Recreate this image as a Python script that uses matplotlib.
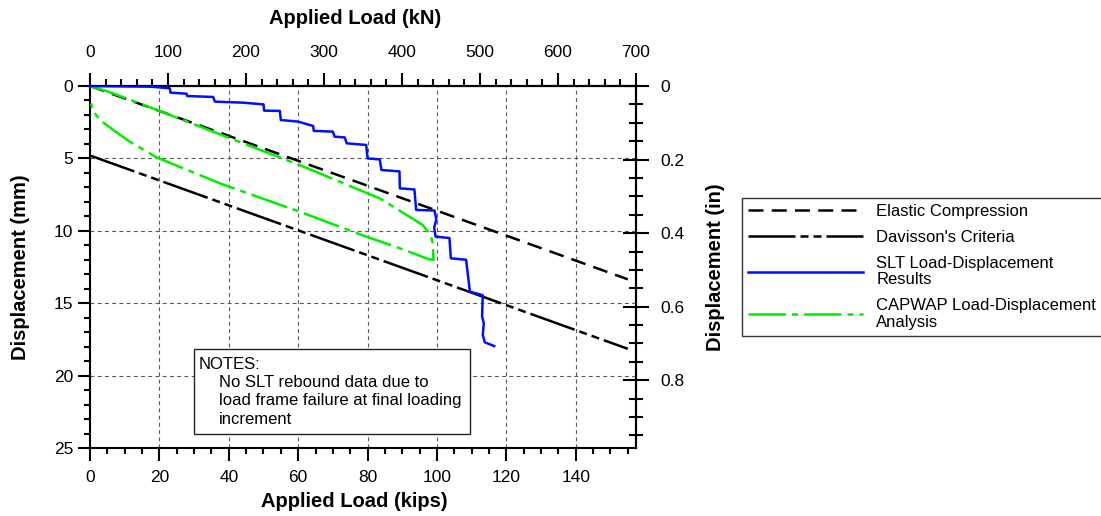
import matplotlib
matplotlib.use("Agg")
import matplotlib.pyplot as plt
from matplotlib.ticker import MultipleLocator, FixedLocator, FuncFormatter
from matplotlib.patches import Rectangle

plt.rcParams['font.family'] = ['Liberation Sans', 'DejaVu Sans']

KN_PER_KIP = 4.44822
MM_PER_IN = 25.4

# ---- data (load in kips, displacement in mm) ----
line_load = [0, 155]
elastic_disp = [0, 13.35]
davisson_disp = [4.8, 18.15]

slt_load = [0, 10, 17.8, 23, 23.2, 27.8, 28, 35.5, 36, 44, 50, 50.2, 54.7, 55,
            60, 64.3, 64.5, 70, 70.5, 73.4, 74, 79.6, 80, 83.5, 84, 89.2, 89.3,
            93.5, 94, 99.3, 99.8, 99.2, 99.6, 103.6, 104, 108.4, 109.5, 113.2,
            113.0, 113.5, 113.2, 113.8, 116.5]
slt_disp = [0, 0.03, 0.05, 0.16, 0.46, 0.53, 0.69, 0.76, 1.08, 1.15, 1.27, 1.7,
            1.72, 2.35, 2.46, 2.76, 3.1, 3.15, 3.5, 3.55, 3.96, 4.07, 5.0, 5.07,
            5.8, 5.9, 7.07, 7.14, 8.56, 8.6, 9.2, 9.8, 10.4, 10.5, 11.9, 12.0,
            14.2, 14.45, 15.9, 16.4, 17.2, 17.7, 17.96]

capwap_load = [0, 5.3, 17.3, 54.7, 60.4, 79.6, 83.5, 92, 95.9, 97.4, 98.3, 98.8,
               99.0, 97.8, 89.2, 79.6, 60.4, 37.4, 19.2, 11.5, 6.7, 2.9, 1.0, 0.3]
capwap_disp = [0, 0.39, 1.47, 4.93, 5.46, 7.37, 7.76, 9.02, 9.6, 10.06, 10.4, 10.87,
               12.0, 11.97, 11.2, 10.4, 8.68, 6.72, 4.93, 3.85, 3.04, 2.35, 1.77, 1.2]

labels = ["Elastic Compression", "Davisson's Criteria",
          "SLT Load-Displacement\nResults", "CAPWAP Load-Displacement\nAnalysis"]
notes_title = "NOTES:"
notes_lines = ["No SLT rebound data due to", "load frame failure at final loading", "increment"]

x_max = 700 / KN_PER_KIP

fig = plt.figure(figsize=(11.01, 5.16), dpi=100)
W, H = 1101, 516
ax = fig.add_axes([90 / W, 1 - 448 / H, (636 - 90) / W, (448 - 86) / H])

ax.set_xlim(0, x_max)
ax.set_ylim(25, 0)

lw = 1.8
l1, = ax.plot(line_load, elastic_disp, color='black', lw=lw, dashes=(6, 3.3), zorder=4)
l2, = ax.plot(line_load, davisson_disp, color='black', lw=lw,
              dashes=(18.8, 2, 3.2, 2, 3.2, 2), zorder=4)
l3, = ax.plot(slt_load, slt_disp, color='#0010ff', lw=lw, zorder=5)
l4, = ax.plot(capwap_load, capwap_disp, color='#00ee00', lw=lw,
              dashes=(15, 2.4, 2.4, 2.4), zorder=4)

# ticks
ax.xaxis.set_major_locator(MultipleLocator(20))
ax.xaxis.set_minor_locator(MultipleLocator(5))
ax.yaxis.set_major_locator(MultipleLocator(5))
ax.yaxis.set_minor_locator(MultipleLocator(1))
ax.tick_params(which='major', direction='out', length=9, width=1.5, labelsize=12.5)
ax.tick_params(which='minor', direction='out', length=4.5, width=1.5)
ax.tick_params(axis='x', which='major', pad=7)
ax.tick_params(axis='y', which='major', pad=3)
ax.tick_params(top=False, right=False, which='both')

for s in ax.spines.values():
    s.set_linewidth(1.5)

ax.grid(True, which='major', linestyle=(0, (3.5, 3)), color='0.35', lw=0.8, zorder=1)
ax.set_axisbelow(True)

ax.set_xlabel("Applied Load (kips)", fontsize=14.5, fontweight='bold')
ax.set_ylabel("Displacement (mm)", fontsize=14.5, fontweight='bold', labelpad=17)
ax.xaxis.set_label_coords(0.485, -0.122)

# top axis kN
top = ax.secondary_xaxis('top', functions=(lambda k: k * KN_PER_KIP, lambda n: n / KN_PER_KIP))
top.xaxis.set_major_locator(MultipleLocator(100))
top.xaxis.set_minor_locator(MultipleLocator(20))
top.tick_params(which='major', direction='out', length=9.5, width=1.5, labelsize=12.5, pad=9)
top.tick_params(which='minor', direction='out', length=5, width=1.5)
top.spines['top'].set_linewidth(1.5)
fig.text(355 / W, 1 - 18 / H, "Applied Load (kN)", fontsize=14.5, fontweight='bold',
         ha='center', va='center')

# right axis in
right = ax.secondary_yaxis('right', functions=(lambda m: m / MM_PER_IN, lambda i: i * MM_PER_IN))
right.yaxis.set_major_locator(FixedLocator([0, 0.2, 0.4, 0.6, 0.8]))
right.yaxis.set_minor_locator(FixedLocator([0.05 * i for i in range(20)]))
right.yaxis.set_major_formatter(FuncFormatter(lambda v, p: f"{v:g}"))
right.tick_params(which='major', direction='inout', length=18.5, width=1.5, labelsize=12.5, pad=8.5)
right.tick_params(which='minor', direction='inout', length=9.5, width=1.5)
right.spines['right'].set_linewidth(1.5)
right.set_ylabel("Displacement (in)", fontsize=14.5, fontweight='bold', labelpad=15)

# notes box
ax.add_patch(Rectangle((30, 18.15), 79.5, 5.9, facecolor='white', edgecolor='#222222',
                       lw=1.0, zorder=6))
ax.text(31.4, 19.2, notes_title, fontsize=12, va='center', ha='left', zorder=7)
for yv, s in zip([20.5, 21.75, 23.05], notes_lines):
    ax.text(37.2, yv, s, fontsize=12, va='center', ha='left', zorder=7)

leg = fig.legend([l1, l2, l3, l4], labels, loc='upper left',
                 bbox_to_anchor=(742 / W, 1 - 198 / H), borderaxespad=0,
                 fontsize=12, frameon=True, fancybox=False, edgecolor='black',
                 handlelength=6.9, handletextpad=0.8, borderpad=0.35, labelspacing=0.65)
leg.get_frame().set_linewidth(1.0)
for t in leg.get_texts():
    t.set_linespacing(1.16)

fig.savefig("out.png", dpi=100)
